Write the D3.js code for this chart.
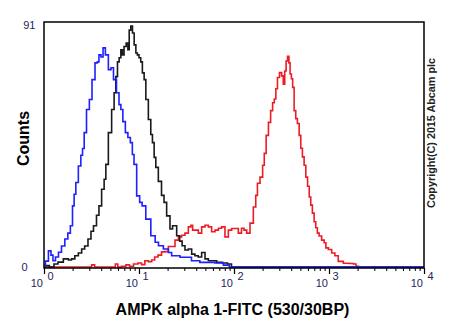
<!DOCTYPE html>
<html>
<head>
<meta charset="utf-8">
<script src="https://cdn.jsdelivr.net/npm/d3@7"></script>
<style>
  html, body { margin: 0; padding: 0; background: #fff; }
  svg { display: block; }
  text { font-family: "Liberation Sans", Arial, sans-serif; }
</style>
</head>
<body>
<svg id="chart" width="450" height="330"></svg>
<script>
// x values are log10 of fluorescence intensity (decades), y values are counts
const blueLog = [0.00,0.03,0.063,0.084,0.105,0.137,0.168,0.20,0.239,0.263,0.292,0.308,0.326,0.344,0.379,0.397,0.414,0.432,0.463,0.492,0.519,0.555,0.568,0.589,0.611,0.632,0.66,0.695,0.716,0.747,0.779,0.80,0.818,0.842,0.871,0.895,0.923,0.937,0.958,0.993,1.021,1.045,1.098,1.151,1.189,1.221,1.292,1.326,1.361,1.502,1.537,1.568,1.713,1.747,1.853,1.923,1.979,4.0];
const blueCount = [0,2.2,6.0,4.4,2.3,3.7,5.5,7.8,10.4,12.6,15.3,22.7,27,31.4,37.5,41.5,44,49.9,58.5,62.2,69.6,75.8,76.2,78.8,78,81.4,78.8,73.3,74,69.6,64.7,60.3,58.5,54,49.9,48.1,46.2,41.8,38.1,26.4,24,22.7,17.8,11.6,9.2,7.9,6.7,5.4,4.2,3.6,3.6,2.3,1.7,1.7,1.5,0.7,0,0];

const blackLog = [0,0.028,0.084,0.126,0.168,0.239,0.274,0.305,0.344,0.379,0.414,0.442,0.484,0.505,0.537,0.568,0.589,0.624,0.642,0.66,0.695,0.729,0.747,0.765,0.782,0.80,0.818,0.832,0.853,0.877,0.889,0.905,0.923,0.94,0.958,0.976,0.989,1.011,1.026,1.045,1.063,1.081,1.116,1.132,1.151,1.168,1.186,1.221,1.253,1.274,1.308,1.344,1.363,1.379,1.414,1.442,1.466,1.502,1.537,1.572,1.605,1.642,1.677,1.713,1.747,1.782,1.853,1.905,1.958,1.989,4.0];
const blackCount = [0,0.5,0,1.1,1.8,3,2.6,3,4.2,5.2,6.7,7.8,10.4,13.3,15.3,19.2,22.7,28.9,32.6,38.1,49.9,58.5,64.7,70.7,76.2,77.7,80.7,78.8,81.9,83.2,80.7,88,89.5,86.9,82.5,79.5,78.8,77.7,76.2,72.1,69.6,62.2,54.8,49.2,46.2,40.7,37,31.8,26.6,24,19,14.1,15.3,15.3,11.6,9.6,7.9,6.3,6.7,4.8,4.2,3.7,5.4,3,2.3,2.3,1.7,1.5,1.1,0,0];

const redLog = [0,0.484,0.519,0.547,0.737,0.765,0.789,0.842,0.884,0.916,0.968,1.011,1.042,1.081,1.116,1.151,1.179,1.221,1.253,1.292,1.326,1.361,1.397,1.432,1.466,1.502,1.537,1.555,1.574,1.607,1.642,1.677,1.713,1.747,1.782,1.818,1.853,1.887,1.923,1.958,1.993,2.028,2.063,2.095,2.116,2.151,2.186,2.221,2.237,2.256,2.292,2.311,2.326,2.351,2.374,2.397,2.416,2.432,2.449,2.466,2.492,2.511,2.526,2.542,2.555,2.572,2.584,2.597,2.611,2.624,2.642,2.658,2.677,2.695,2.711,2.729,2.747,2.765,2.784,2.80,2.816,2.834,2.853,2.868,2.887,2.905,2.94,2.958,2.976,3.011,3.045,3.079,3.116,3.186,3.242,3.274,3.295,3.326];
const redCount = [0,0,0.8,0,0,1.1,0,0.3,0.8,0.3,1.1,1.5,0.9,2.3,2.0,2.6,3.7,4.4,5.6,5.7,7.6,7.6,10,11.2,11.8,12.6,14.9,15.5,13.7,13.7,12.6,14.9,15.5,14.9,13.1,13.7,14.4,14.9,11.2,13.7,14.3,14.3,12.6,14.4,13.7,12.6,16.3,22.3,26.6,31.1,33.4,37.8,42.2,48.9,53.7,58.1,61,62.4,66.2,70.4,72.2,71,67.9,72.8,76.5,78.3,75.8,71.7,69.9,66.7,58.1,55.1,53.3,48.9,44.1,40.9,37.8,33.4,30,26,23,20,16.8,14.6,12.6,11.5,10,9,7.1,6.5,5.2,4.2,2.1,1.4,1.3,1.1,0.3,0];

const decades = [0, 1, 2, 3, 4];
const yTickLabels = ["0", "91"];
const xTitle = "AMPK alpha 1-FITC (530/30BP)";
const yTitle = "Counts";
const copyright = "Copyright(C) 2015 Abcam plc";

(function () {
const svg = d3.select("#chart");
const pLeft = 44, pRight = 424, pTop = 22, pBottom = 268;

const x = d3.scaleLinear().domain([0, 4]).range([pLeft, pRight]);
const y = d3.scaleLinear().domain([0, 91]).range([pBottom - 1, pTop]);

const line = d3.line()
  .x(d => x(d[0]))
  .y(d => y(d[1]))
  .curve(d3.curveStep);

const series = [
  {lx: redLog, c: redCount, color: "#ec1c24"},
  {lx: blackLog, c: blackCount, color: "#1a1a1a"},
  {lx: blueLog, c: blueCount, color: "#1f1fff"}
];

series.forEach(s => {
  svg.append("path")
    .datum(s.lx.map((v, i) => [v, s.c[i]]))
    .attr("fill", "none")
    .attr("stroke", s.color)
    .attr("stroke-width", 1.6)
    .attr("stroke-linejoin", "miter")
    .attr("d", line);
});

// frame
svg.append("rect")
  .attr("x", pLeft).attr("y", pTop)
  .attr("width", pRight - pLeft).attr("height", pBottom - pTop)
  .attr("fill", "none").attr("stroke", "#000").attr("stroke-width", 1.5);

// minor ticks
const minor = [];
decades.slice(0, 4).forEach(d => { for (let k = 2; k <= 9; k++) minor.push(d + Math.log10(k)); });

const minorAxis = d3.axisBottom(x).tickValues(minor).tickSize(3).tickFormat("");
const gMin = svg.append("g").attr("transform", `translate(0,${pBottom})`).call(minorAxis);
gMin.select(".domain").remove();
gMin.selectAll("line").attr("stroke", "#000").attr("stroke-width", 1);

const majorAxis = d3.axisBottom(x).tickValues(decades).tickSize(6).tickFormat("");
const gMaj = svg.append("g").attr("transform", `translate(0,${pBottom})`).call(majorAxis);
gMaj.select(".domain").remove();
gMaj.selectAll("line").attr("stroke", "#000").attr("stroke-width", 1.2);

// x tick labels 10^n
const labelColor = "#1e1e5a";
decades.forEach(d => {
  svg.append("text")
    .attr("x", x(d) - 1).attr("y", 287)
    .attr("text-anchor", "end")
    .attr("font-size", 11).attr("fill", labelColor)
    .text("10");
  svg.append("text")
    .attr("x", x(d) + 3.5).attr("y", 279.5)
    .attr("font-size", 11).attr("fill", labelColor)
    .text(String(d));
});

// y tick labels
svg.append("text").attr("x", 35.5).attr("y", 28.5).attr("text-anchor", "end")
  .attr("font-size", 11).attr("fill", labelColor).text(yTickLabels[1]);
svg.append("text").attr("x", 27.5).attr("y", 270.5).attr("text-anchor", "end")
  .attr("font-size", 11).attr("fill", labelColor).text(yTickLabels[0]);

// titles
svg.append("text")
  .attr("x", 232.5).attr("y", 315)
  .attr("text-anchor", "middle")
  .attr("font-size", 16).attr("font-weight", "bold").attr("fill", "#000")
  .text(xTitle);

svg.append("text")
  .attr("transform", "translate(29,138.5) rotate(-90)")
  .attr("text-anchor", "middle")
  .attr("font-size", 16).attr("font-weight", "bold").attr("fill", "#000")
  .text(yTitle);

svg.append("text")
  .attr("transform", "translate(434.5,133) rotate(-90)")
  .attr("text-anchor", "middle")
  .attr("font-size", 10.5).attr("font-weight", "bold").attr("fill", "#222")
  .attr("textLength", 150).attr("lengthAdjust", "spacingAndGlyphs")
  .text(copyright);
})();
</script>
</body>
</html>
